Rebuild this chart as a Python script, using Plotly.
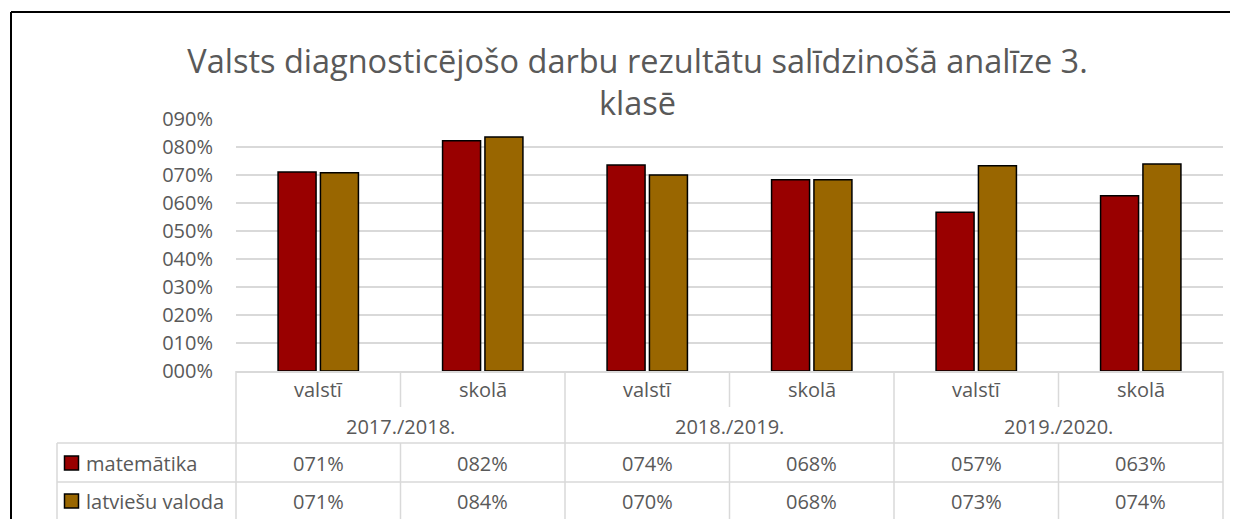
import plotly.graph_objects as go

# ---- data ----
years = ["2017./2018.", "2018./2019.", "2019./2020."]
subcats = ["valstī", "skolā"]
series_names = ["matemātika", "latviešu valoda"]
matematika = [0.711, 0.822, 0.736, 0.683, 0.567, 0.626]
latviesu = [0.708, 0.836, 0.700, 0.683, 0.733, 0.739]
colors = ["#990000", "#996600"]
yticks = [0, 0.1, 0.2, 0.3, 0.4, 0.5, 0.6, 0.7, 0.8, 0.9]

title_text = "Valsts diagnosticējošo darbu rezultātu salīdzinošā analīze 3.<br>klasē"

# categories
cats = [f"{y} {s}" for y in years for s in subcats]
series = [matematika, latviesu]

# page offset of the plot div (default body margin)
OFF = 8
PAGE_W, PAGE_H = 1238, 519
W, H = PAGE_W - OFF, PAGE_H - OFF
# reference page pixel positions of the plotting area
L, R, T, B = 236, 1223, 119, 371
FONT = "Open Sans"
TXT = "#595959"
GRID = "#d9d9d9"
FS = 20


def px(xp):
    return (xp - L) / (R - L)


def py(yp):
    return (B - yp) / (B - T)


fig = go.Figure()
for name, vals, col in zip(series_names, series, colors):
    fig.add_trace(go.Bar(
        x=cats, y=vals, name=name,
        marker=dict(color=col, line=dict(color="#000000", width=1.5)),
        showlegend=False,
    ))

shapes = []


def line(x0, y0, x1, y1, color=GRID, width=1.5):
    shapes.append(dict(type="line", xref="paper", yref="paper",
                       x0=x0, y0=y0, x1=x1, y1=y1,
                       line=dict(color=color, width=width)))


n = len(cats)
bottom = py(PAGE_H + 5)
# vertical table lines
for k in range(n + 1):
    xk = k / n
    if k % 2 == 0:
        line(xk, py(B), xk, bottom)
    else:
        line(xk, py(B), xk, py(407))
        line(xk, py(443), xk, bottom)
# legend column
line(px(57), py(443), px(57), bottom)
line(px(57), py(443), 1, py(443))
line(px(57), py(482), 1, py(482))

# document frame
line(px(11), py(12), px(PAGE_W + 20), py(12), color="#000000", width=2)
line(px(11), py(12), px(11), py(PAGE_H + 20), color="#000000", width=2)

annotations = []
font = dict(family=FONT, size=FS, color=TXT)
# subcategory labels
for i, c in enumerate(cats):
    annotations.append(dict(x=i, xref="x", y=py(389), yref="paper",
                            xanchor="center", yanchor="middle",
                            text=subcats[i % 2], showarrow=False, font=font))
# group labels
for g, yr in enumerate(years):
    annotations.append(dict(x=(2 * g + 1) / n, xref="paper", y=py(426), yref="paper",
                            xanchor="center", yanchor="middle",
                            text=yr, showarrow=False, font=font))
# data rows
row_y = [463, 501]
for r, (name, vals, col) in enumerate(zip(series_names, series, colors)):
    yc = row_y[r]
    shapes.append(dict(type="rect", xref="paper", yref="paper",
                       x0=px(64.5), x1=px(78.5), y0=py(yc - 7), y1=py(yc + 7),
                       fillcolor=col, line=dict(color="#000000", width=1.5)))
    annotations.append(dict(x=px(84), xref="paper", y=py(yc), yref="paper",
                            text=name, showarrow=False, xanchor="left",
                            yanchor="middle", font=font))
    for i, v in enumerate(vals):
        annotations.append(dict(x=i, xref="x", y=py(yc), yref="paper",
                                xanchor="center", yanchor="middle",
                                text=f"{round(v * 100):03d}%", showarrow=False,
                                font=font))

fig.update_layout(
    width=W, height=H,
    margin=dict(l=L - OFF, r=W - (R - OFF), t=T - OFF, b=H - (B - OFF), pad=0),
    paper_bgcolor="white", plot_bgcolor="white",
    title=dict(text=title_text, x=(637.5 - OFF) / W, xanchor="center",
               y=1 - (72.5 - OFF) / H, yanchor="middle", yref="container",
               font=dict(family=FONT, size=32.5, color=TXT)),
    barmode="group", bargap=0.485, bargroupgap=0.103,
    xaxis=dict(type="category", showticklabels=False, showgrid=False,
               showline=True, linecolor=GRID, linewidth=1.5,
               range=[-0.5, n - 0.5], fixedrange=True),
    yaxis=dict(range=[0, 0.9], tickvals=yticks, tickformat="04.0%",
               showgrid=True, gridcolor=GRID, gridwidth=1.5,
               zeroline=False, showline=False, ticks="",
               ticklabelstandoff=22,
               tickfont=dict(family=FONT, size=FS, color=TXT)),
    shapes=shapes, annotations=annotations,
)

fig.write_html("out.html")
